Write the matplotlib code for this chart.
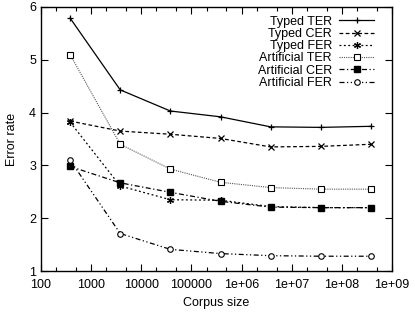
import matplotlib
matplotlib.use('Agg')
import matplotlib.pyplot as plt
from matplotlib.ticker import LogLocator, FixedLocator, FixedFormatter, NullFormatter

plt.rcParams['font.family'] = ['Liberation Sans', 'DejaVu Sans']

# corpus sizes and error rates
corpus_size = [380, 3800, 38000, 380000, 3.8e6, 3.8e7, 3.8e8]
typed_ter = [5.79, 4.43, 4.03, 3.92, 3.73, 3.72, 3.74]
typed_cer = [3.84, 3.65, 3.59, 3.51, 3.35, 3.36, 3.40]
typed_fer = [3.82, 2.61, 2.35, 2.34, 2.22, 2.20, 2.20]
art_ter = [5.10, 3.40, 2.93, 2.68, 2.58, 2.55, 2.55]
art_cer = [2.98, 2.67, 2.49, 2.32, 2.21, 2.20, 2.20]
art_fer = [3.10, 1.71, 1.41, 1.33, 1.29, 1.28, 1.28]

xtick_vals = [1e2, 1e3, 1e4, 1e5, 1e6, 1e7, 1e8, 1e9]
xtick_labels = ['100', '1000', '10000', '100000', '1e+06', '1e+07', '1e+08', '1e+09']

fig = plt.figure(figsize=(4.15, 3.12), dpi=100)
ax = fig.add_axes([0.0988, 0.1314, 0.8458, 0.8462])

lw = 0.9
ax.plot(corpus_size, typed_ter, color='black', lw=lw, ls='-', marker='+', ms=5,
        mew=0.9, label='Typed TER')
ax.plot(corpus_size, typed_cer, color='black', lw=lw, ls=(0, (3, 2)), marker='x', ms=4,
        mew=0.9, label='Typed CER')
ax.plot(corpus_size, typed_fer, color='black', lw=lw, ls=(0, (1.5, 2)), marker=(6, 2, 0),
        ms=5, mew=0.9, label='Typed FER')
ax.plot(corpus_size, art_ter, color='#555555', lw=0.8, ls=(0, (1, 1)), marker='s', ms=4,
        mfc='white', mec='black', mew=0.8, label='Artificial TER')
ax.plot(corpus_size, art_cer, color='black', lw=lw, ls=(0, (4, 2, 1, 2)), marker='s', ms=4,
        mfc='black', mec='black', label='Artificial CER')
ax.plot(corpus_size, art_fer, color='black', lw=lw, ls=(0, (4, 2, 1, 2, 1, 2)), marker='o',
        ms=4, mfc='white', mec='black', mew=0.8, label='Artificial FER')

ax.set_xscale('log')
ax.set_xlim(100, 1e9)
ax.set_ylim(1, 6)
ax.xaxis.set_major_locator(FixedLocator(xtick_vals))
ax.xaxis.set_major_formatter(FixedFormatter(xtick_labels))
ax.xaxis.set_minor_locator(LogLocator(base=10, subs=[2, 5], numticks=20))
ax.xaxis.set_minor_formatter(NullFormatter())
ax.set_yticks([1, 2, 3, 4, 5, 6])

ax.tick_params(which='both', direction='in', top=True, right=True, labelsize=9,
               width=0.8, colors='black')
ax.tick_params(which='major', length=5)
ax.tick_params(which='minor', length=3)
ax.tick_params(axis='x', pad=6)
for s in ax.spines.values():
    s.set_linewidth(1.0)

ax.set_xlabel('Corpus size', fontsize=9, labelpad=4)
ax.set_ylabel('Error rate', fontsize=9, labelpad=8)

ax.legend(loc='upper right', frameon=False, markerfirst=False, fontsize=9,
          handlelength=2.8, handletextpad=0.6, labelspacing=0.02,
          borderaxespad=0.3, bbox_to_anchor=(0.975, 1.0))

fig.savefig('out.png', dpi=100)
